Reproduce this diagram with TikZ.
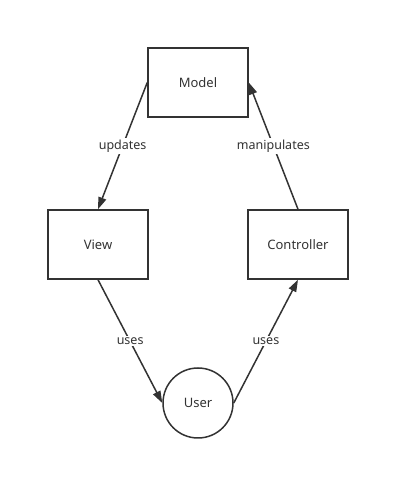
\documentclass[tikz,border=0pt]{standalone}
\usepackage{fontspec}
\setmainfont{Noto Sans}
\usetikzlibrary{arrows.meta}
\definecolor{inkgray}{HTML}{333333}

\begin{document}
\begin{tikzpicture}[
    x=1pt, y=1pt,
    compbox/.style={draw=inkgray, line width=1.5pt, minimum width=100pt,
                    minimum height=69pt, inner sep=0pt, font=\fontsize{13}{15}\selectfont,
                    text=inkgray},
    actor/.style={draw=inkgray, line width=1.5pt, circle, minimum size=70pt,
                  inner sep=0pt, font=\fontsize{13}{15}\selectfont, text=inkgray},
    flow/.style={inkgray, line width=1.5pt, -{Triangle[length=12pt, width=8pt]}},
    flowlabel/.style={fill=white, inner sep=1.5pt, font=\fontsize{12.5}{14}\selectfont,
                      text=inkgray},
]

\def\midx{198}   % centre column
\def\side{100}   % column offset

% ── Frame ───────────────────────────────────────────────────
\useasboundingbox (0, 0) rectangle (410, 500);

% ── Components ──────────────────────────────────────────────
\node[compbox] (model) at (\midx, 417.5) {Model};
\node[compbox] (view) at ({\midx-\side}, 255.5) {View};
\node[compbox] (controller) at ({\midx+\side}, 255.5) {Controller};
\node[actor] (user) at (\midx, 97) {User};

% ── Flows ───────────────────────────────────────────────────
\draw[flow] (model.west) -- node[flowlabel] {updates} (view.north);
\draw[flow] (controller.north) -- node[flowlabel] {manipulates} (model.east);
\draw[flow] (view.south) -- node[flowlabel] {uses} (user.west);
\draw[flow] (user.east) -- node[flowlabel] {uses} (controller.south);

\end{tikzpicture}
\end{document}
